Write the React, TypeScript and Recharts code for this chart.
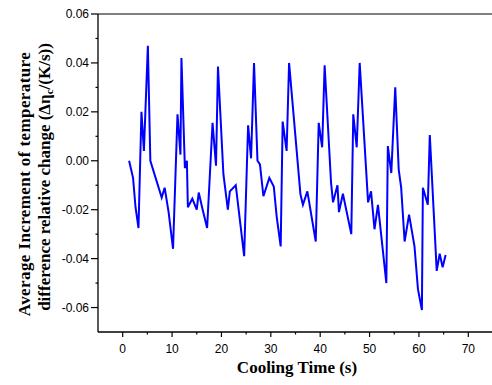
import React from "react";
import { LineChart, Line, XAxis, YAxis, ReferenceLine } from "recharts";

// cooling time (s) and average increment of temperature difference relative change
const times = [
  1.3, 2.1, 2.6, 3.2, 3.8, 4.3, 5.1, 5.6, 7.9, 8.5, 9.3, 10.2, 11.1, 11.7, 11.9,
  12.6, 13.0, 13.2, 14.1, 15.0, 15.4, 16.2, 17.1, 18.2, 18.9, 19.3, 20.4, 21.3,
  21.7, 22.9, 24.6, 25.4, 26.0, 26.6, 27.3, 27.8, 28.5, 29.7, 30.6, 31.2, 32.0,
  32.4, 33.2, 33.7, 36.0, 36.5, 37.4, 39.1, 39.7, 40.4, 40.9, 42.2, 42.6, 43.5,
  43.8, 44.6, 46.3, 46.7, 47.4, 48.0, 49.7, 50.3, 51.0, 51.7, 53.4, 53.7, 54.4,
  55.2, 55.9, 56.4, 57.1, 58.0, 59.1, 59.8, 60.6, 60.8, 61.8, 62.2, 63.6, 64.2,
  64.8, 65.4,
];
const increments = [
  0.0, -0.007, -0.019, -0.0275, 0.02, 0.004, 0.047, 0.0, -0.015, -0.011, -0.021,
  -0.036, 0.019, 0.0025, 0.042, -0.003, 0.0, -0.019, -0.0155, -0.02, -0.013,
  -0.02, -0.0275, 0.0155, -0.002, 0.0385, -0.0055, -0.02, -0.0125, -0.01,
  -0.039, 0.0145, 0.001, 0.04, 0.0, -0.0015, -0.0145, -0.007, -0.0105, -0.023,
  -0.035, 0.016, 0.004, 0.04, -0.0137, -0.018, -0.0125, -0.033, 0.0155, 0.0055,
  0.039, -0.009, -0.017, -0.01, -0.021, -0.0135, -0.03, 0.019, 0.0055, 0.04,
  -0.017, -0.0125, -0.028, -0.018, -0.05, 0.006, -0.005, 0.03, -0.0035, -0.011,
  -0.033, -0.022, -0.035, -0.0525, -0.061, -0.011, -0.018, 0.0105, -0.045,
  -0.038, -0.0435, -0.0385,
];

const xTicks = [0, 5, 10, 15, 20, 25, 30, 35, 40, 45, 50, 55, 60, 65, 70];
const xLabelTicks = [0, 10, 20, 30, 40, 50, 60, 70];
const yTicks = [-0.06, -0.05, -0.04, -0.03, -0.02, -0.01, 0, 0.01, 0.02, 0.03, 0.04, 0.05, 0.06];
const yLabelTicks = ["-0.06", "-0.04", "-0.02", "0.00", "0.02", "0.04", "0.06"];

const data = times.map((t, i) => ({ t, v: increments[i] }));

const tickFont = "Liberation Sans, Arial, sans-serif";
const titleFont = "Liberation Serif, Times New Roman, serif";

const XTick = ({ x, y, payload }: any) => {
  const major = xLabelTicks.includes(payload.value);
  return (
    <g>
      <line x1={x} x2={x} y1={y} y2={y + (major ? 5 : 2.5)} stroke="#000" strokeWidth={1.2} />
      {major && (
        <text x={x} y={y + 21} textAnchor="middle" fontSize={12} fontFamily={tickFont} fill="#000">
          {payload.value}
        </text>
      )}
    </g>
  );
};

const YTick = ({ x, y, payload }: any) => {
  const label = Number(payload.value).toFixed(2);
  const major = yLabelTicks.includes(label);
  return (
    <g>
      <line x1={x} x2={x - (major ? 7 : 2.5)} y1={y} y2={y} stroke="#000" strokeWidth={1.2} />
      {major && (
        <text x={x - 9} y={y + 4} textAnchor="end" fontSize={12} fontFamily={tickFont} fill="#000">
          {label}
        </text>
      )}
    </g>
  );
};

const YTitle = () => (
  <g fontFamily={titleFont} fontWeight="bold" fontSize={17} fill="#000">
    <text x={30} y={184} textAnchor="middle" letterSpacing={0.4} transform="rotate(-90, 30, 184)">
      Average Increment of temperature
    </text>
    <text x={50} y={177} textAnchor="middle" transform="rotate(-90, 50, 177)">
      difference relative change (Δη
      <tspan dy={3} fontSize={11}>c</tspan>
      <tspan dy={-3}>/(K/s))</tspan>
    </text>
  </g>
);

const XTitle = () => (
  <text x={297} y={373} textAnchor="middle" fontFamily={titleFont} fontWeight="bold" fontSize={17} fill="#000">
    Cooling Time (s)
  </text>
);

export default function App() {
  return (
    <div style={{ position: "absolute", left: 0, top: 0, background: "#fff" }}>
      <LineChart
        width={493}
        height={385}
        data={data}
        margin={{ top: 14, right: 0, bottom: 0, left: 0 }}
      >
        <XAxis
          type="number"
          dataKey="t"
          domain={[-5, 75]}
          ticks={xTicks}
          interval={0}
          height={53}
          tickSize={0}
          tickMargin={0}
          tickLine={false}
          tick={<XTick />}
          axisLine={{ stroke: "#000", strokeWidth: 1.3 }}
          allowDataOverflow
          label={{ content: () => <XTitle /> }}
        />
        <YAxis
          type="number"
          domain={[-0.07, 0.06]}
          ticks={yTicks}
          interval={0}
          width={98}
          tickSize={0}
          tickMargin={0}
          tickLine={false}
          tick={<YTick />}
          axisLine={{ stroke: "#000", strokeWidth: 1.3 }}
          allowDataOverflow
          label={{ content: () => <YTitle /> }}
        />
        <ReferenceLine y={0.06} stroke="#555" strokeWidth={1.5} ifOverflow="visible" />
        <Line
          type="linear"
          dataKey="v"
          stroke="#0000ff"
          strokeWidth={2}
          dot={false}
          isAnimationActive={false}
        />
      </LineChart>
    </div>
  );
}
